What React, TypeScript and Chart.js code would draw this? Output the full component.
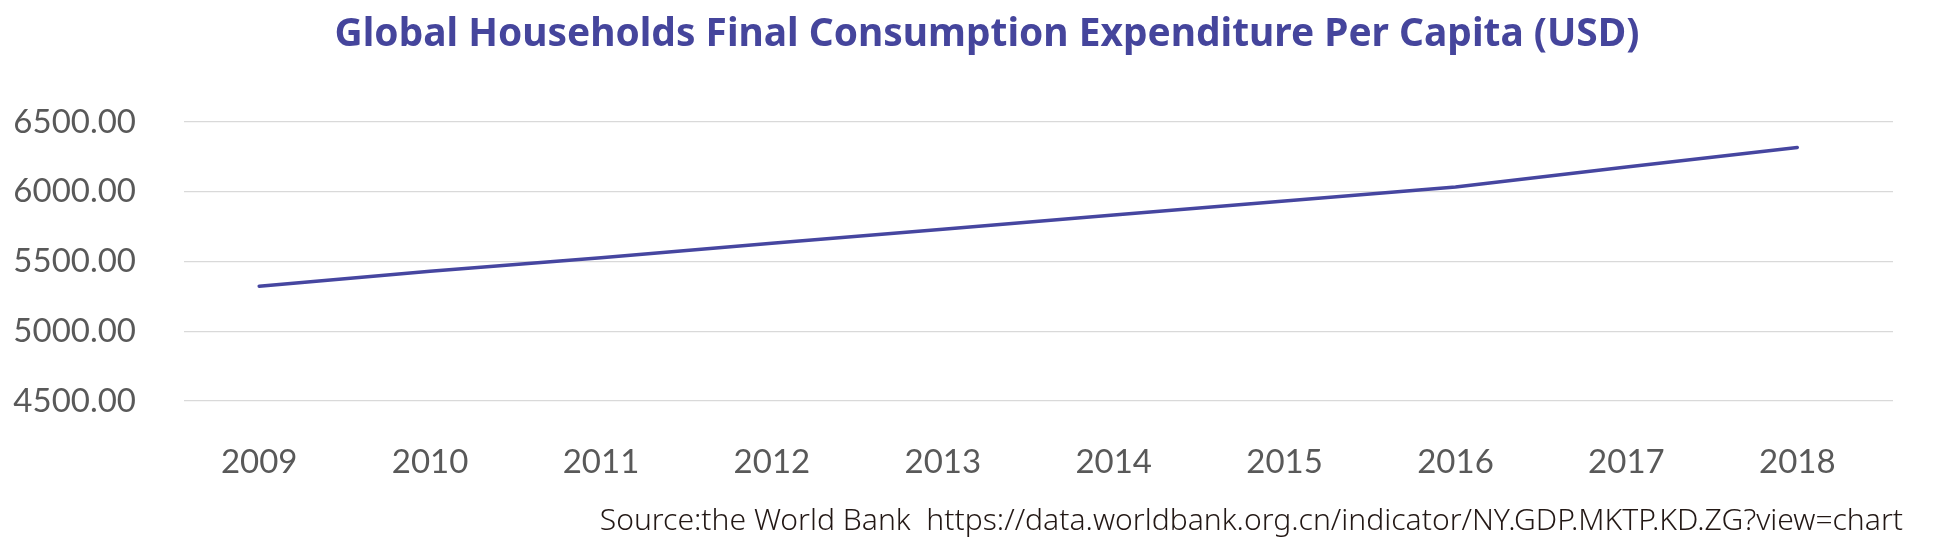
import React, { useEffect, useRef } from "react";
import { Chart, registerables } from "chart.js";

Chart.register(...registerables);

const TITLE = "Global Households Final Consumption Expenditure Per Capita (USD)";
const SOURCE = "Source:the World Bank  https://data.worldbank.org.cn/indicator/NY.GDP.MKTP.KD.ZG?view=chart";
const years = ["2009", "2010", "2011", "2012", "2013", "2014", "2015", "2016", "2017", "2018"];
const expenditure = [5323, 5430, 5527, 5630, 5731, 5834, 5934, 6034, 6177, 6318];
const yMin = 4500;
const yMax = 6500;
const yStep = 500;

const LINE_COLOR = "#4646a0";
const TITLE_COLOR = "#45459c";
const TICK_COLOR = "#595959";
const GRID_COLOR = "#d9d9d9";
const SOURCE_COLOR = "#231815";
const TICK_FONT = "Lato, 'Noto Sans', sans-serif";
const TITLE_FONT = "'Noto Sans', sans-serif";

function fitFont(ctx: CanvasRenderingContext2D, text: string, weight: string, family: string, target: number, maxSize: number) {
  ctx.font = `${weight} 40px ${family}`;
  const w = ctx.measureText(text).width;
  const size = Math.min(maxSize, (40 * target) / w);
  return `${weight} ${size.toFixed(2)}px ${family}`;
}

const textPlugin = {
  id: "textPlugin",
  afterDraw(chart: any) {
    const ctx = chart.ctx;
    ctx.save();
    ctx.fillStyle = TITLE_COLOR;
    ctx.font = fitFont(ctx, TITLE, "bold", TITLE_FONT, 1305, 40);
    ctx.textAlign = "center";
    ctx.textBaseline = "alphabetic";
    ctx.fillText(TITLE, 987, 46);
    ctx.fillStyle = SOURCE_COLOR;
    ctx.font = fitFont(ctx, SOURCE, "300", TITLE_FONT, 1304, 32);
    ctx.textAlign = "right";
    ctx.fillText(SOURCE, 1903, 530);
    ctx.restore();
  },
};

export default function App() {
  const ref = useRef<HTMLCanvasElement>(null);
  useEffect(() => {
    if (!ref.current) return;
    const chart = new Chart(ref.current, {
      type: "line",
      data: {
        datasets: [
          {
            data: expenditure.map((y, i) => ({ x: i, y })),
            borderColor: LINE_COLOR,
            backgroundColor: LINE_COLOR,
            borderWidth: 3.5,
            pointRadius: 0,
            tension: 0,
            borderCapStyle: "round",
          },
        ],
      },
      options: {
        animation: false,
        responsive: false,
        maintainAspectRatio: false,
        layout: { padding: { top: 122, right: 51, left: 0, bottom: 0 } },
        plugins: {
          legend: { display: false },
          title: { display: false },
          tooltip: { enabled: false },
        },
        scales: {
          x: {
            type: "linear",
            min: -0.44,
            max: 9.56,
            grid: { display: false, drawTicks: false },
            border: { display: false },
            afterBuildTicks: (s: any) => {
              s.ticks = years.map((_, i) => ({ value: i }));
            },
            ticks: {
              color: TICK_COLOR,
              font: { family: TICK_FONT, size: 33 },
              padding: 42,
              autoSkip: false,
              maxRotation: 0,
              callback: (v: any) => years[Math.round(Number(v))] ?? "",
            },
            afterFit: (s: any) => {
              s.height = 145;
            },
          },
          y: {
            min: yMin,
            max: yMax,
            grid: { color: GRID_COLOR, lineWidth: 1.3, drawTicks: false },
            border: { display: false },
            ticks: {
              stepSize: yStep,
              color: TICK_COLOR,
              font: { family: TICK_FONT, size: 33 },
              padding: 48,
              callback: (v: any) => Number(v).toFixed(2),
            },
            afterFit: (s: any) => {
              s.width = 184;
            },
          },
        },
      },
      plugins: [textPlugin],
    });
    return () => chart.destroy();
  }, []);
  return (
    <div style={{ position: "fixed", left: 0, top: 0, width: 1944, height: 546, background: "#fff" }}>
      <canvas ref={ref} width={1944} height={546} style={{ width: 1944, height: 546 }} />
    </div>
  );
}
